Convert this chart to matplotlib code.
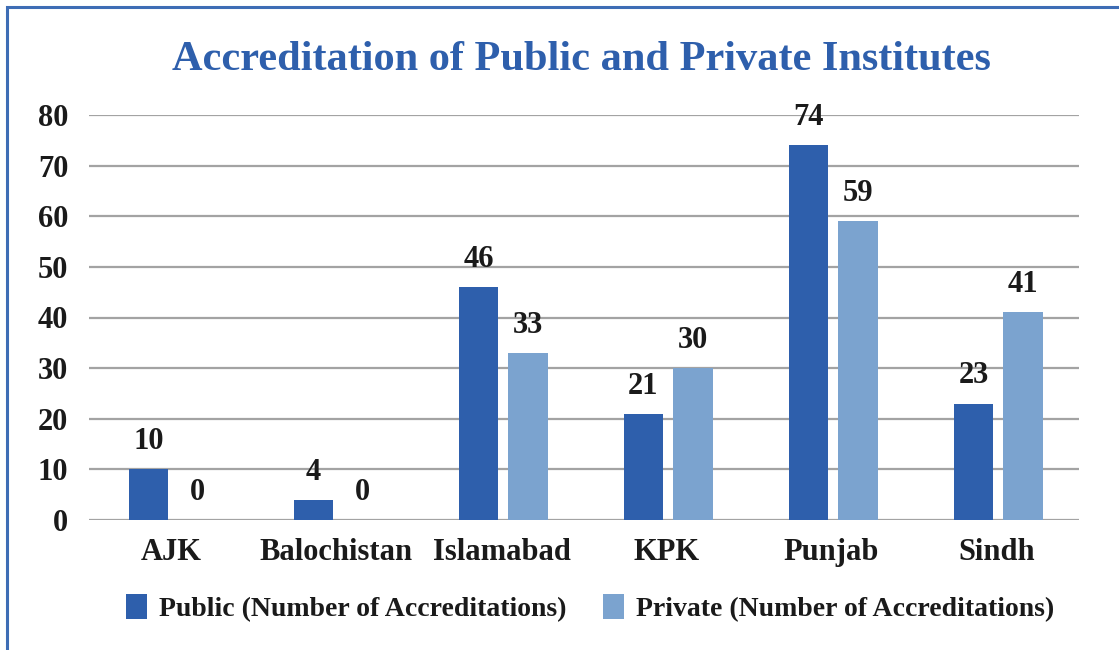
import matplotlib
matplotlib.use("Agg")
import matplotlib.pyplot as plt
from matplotlib.patches import Rectangle
import numpy as np

categories = ["AJK", "Balochistan", "Islamabad", "KPK", "Punjab", "Sindh"]
public_vals = [10, 4, 46, 21, 74, 23]
private_vals = [0, 0, 33, 30, 59, 41]
y_ticks = [0, 10, 20, 30, 40, 50, 60, 70, 80]
title = "Accreditation of Public and Private Institutes"
legend_labels = ["Public (Number of Accreditations)", "Private (Number of Accreditations)"]

pub_color = "#2E5FAC"
priv_color = "#7BA3CF"
text_color = "#1a1a1a"
font = "Liberation Serif"

fig = plt.figure(figsize=(11.19, 6.5), dpi=100)
fig.patch.set_facecolor("white")

# blue border around figure
fig.add_artist(Rectangle((7/1119, -0.05), 1.2, 1 - 7/650 + 0.05, transform=fig.transFigure,
                         fill=False, edgecolor="#3E6DB5", linewidth=2.2))

ax = fig.add_axes([89/1119, 1 - 520/650, (1079 - 89)/1119, (520 - 115)/650])
x = np.arange(len(categories))
w = 0.24
off = 0.15
ax.bar(x - off + 0.01, public_vals, width=w, color=pub_color, zorder=3, label=legend_labels[0])
ax.bar(x + off + 0.01, private_vals, width=w, color=priv_color, zorder=3, label=legend_labels[1])

for xi, v in zip(x, public_vals):
    ax.text(xi - off + 0.01, v + 2.6, str(v), ha="center", va="bottom", fontsize=22,
            fontweight="bold", family=font, color=text_color)
for xi, v in zip(x, private_vals):
    ax.text(xi + off + 0.01, v + 2.6, str(v), ha="center", va="bottom", fontsize=22,
            fontweight="bold", family=font, color=text_color)

ax.set_xlim(-0.5, len(categories) - 0.5)
ax.set_ylim(0, 80)
ax.set_yticks(y_ticks)
ax.set_yticklabels([str(t) for t in y_ticks], fontsize=22, fontweight="bold",
                   family=font, color=text_color)
ax.set_xticks(x)
ax.set_xticklabels(categories, fontsize=22, fontweight="bold", family=font, color=text_color)
ax.tick_params(axis="both", length=0)
ax.tick_params(axis="y", pad=15)
ax.tick_params(axis="x", pad=13)
for s in ax.spines.values():
    s.set_visible(False)
ax.yaxis.grid(True, color="#A3A3A3", linewidth=1.6, zorder=0)
ax.set_axisbelow(True)

fig.text(581/1119, 1 - 60/650, title, ha="center", va="center", fontsize=30.5,
         fontweight="bold", family=font, color=pub_color)

leg = fig.legend(loc="center", bbox_to_anchor=(590/1119, 1 - 608/650), ncol=2, frameon=False,
                 prop={"family": font, "weight": "bold", "size": 20},
                 handlelength=0.75, handleheight=1.0, handletextpad=0.45, columnspacing=1.3)
for t in leg.get_texts():
    t.set_color(text_color)

fig.savefig("out.png", dpi=100)
